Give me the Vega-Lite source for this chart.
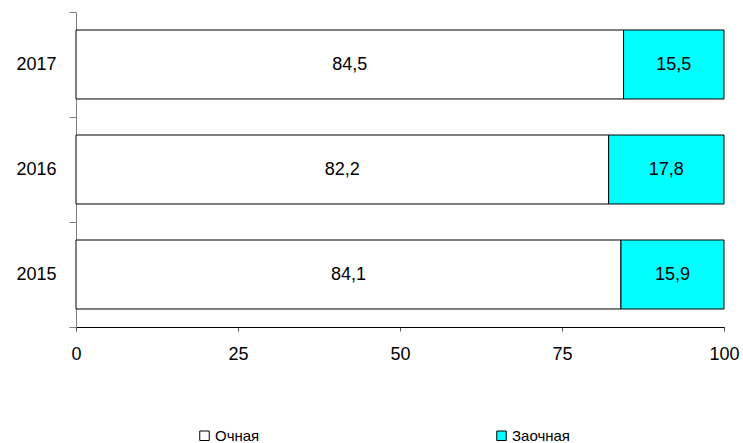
{
  "$schema": "https://vega.github.io/schema/vega-lite/v6.json",
  "autosize": {"type": "none"},
  "padding": {"left": 76, "top": 12, "right": 19, "bottom": 116},
  "width": 648,
  "height": 315,
  "background": "white",
  "data": {
    "values": [
      {"year": "2015", "type": "Очная", "share": 84.1},
      {"year": "2015", "type": "Заочная", "share": 15.9},
      {"year": "2016", "type": "Очная", "share": 82.2},
      {"year": "2016", "type": "Заочная", "share": 17.8},
      {"year": "2017", "type": "Очная", "share": 84.5},
      {"year": "2017", "type": "Заочная", "share": 15.5}
    ]
  },
  "transform": [
    {"stack": "share", "groupby": ["year"], "sort": [{"field": "type", "order": "descending"}], "as": ["x0", "x1"]}
  ],
  "encoding": {
    "y": {
      "field": "year",
      "type": "nominal",
      "sort": "descending",
      "scale": {"paddingInner": 0, "paddingOuter": 0},
      "axis": {
        "title": null,
        "domainColor": "#808080",
        "tickColor": "#808080",
        "tickSize": 7,
        "tickBand": "extent",
        "labelPadding": 13,
        "labelFont": "Liberation Sans",
        "labelFontSize": 18,
        "labelColor": "black"
      }
    }
  },
  "layer": [
    {
      "mark": {"type": "bar", "stroke": "black", "strokeWidth": 1, "height": {"band": 0.657}},
      "encoding": {
        "x": {
          "field": "x0",
          "type": "quantitative",
          "scale": {"domain": [0, 100], "nice": false},
          "axis": {
            "title": null,
            "values": [0, 25, 50, 75, 100],
            "grid": false,
            "domainColor": "black",
            "tickColor": "#555555",
            "tickSize": 4,
            "labelPadding": 14,
            "labelFont": "Liberation Sans",
            "labelFontSize": 18,
            "labelColor": "black",
            "labelFlush": false
          }
        },
        "x2": {"field": "x1"},
        "color": {
          "field": "type",
          "type": "nominal",
          "scale": {"domain": ["Очная", "Заочная"], "range": ["#ffffff", "#00ffff"]},
          "legend": {
            "title": null,
            "orient": "none",
            "legendX": 121,
            "legendY": 416,
            "direction": "horizontal",
            "columnPadding": 234,
            "symbolType": "square",
            "symbolSize": 90,
            "symbolStrokeColor": "black",
            "symbolStrokeWidth": 1,
            "symbolOpacity": 1,
            "labelFont": "Liberation Sans",
            "labelFontSize": 15,
            "labelColor": "black",
            "labelOffset": 3
          }
        }
      }
    },
    {
      "transform": [{"fold": ["x0", "x1"], "as": ["edge", "pos"]}],
      "mark": {"type": "text", "font": "Liberation Sans", "fontSize": 18, "color": "black"},
      "encoding": {
        "x": {"aggregate": "mean", "field": "pos", "type": "quantitative"},
        "text": {"field": "share", "type": "quantitative", "format": ".1f"},
        "detail": {"field": "type"}
      }
    }
  ],
  "config": {
    "view": {"stroke": null},
    "locale": {
      "number": {"decimal": ",", "thousands": " ", "grouping": [3], "currency": ["", " ₽"]}
    }
  }
}
